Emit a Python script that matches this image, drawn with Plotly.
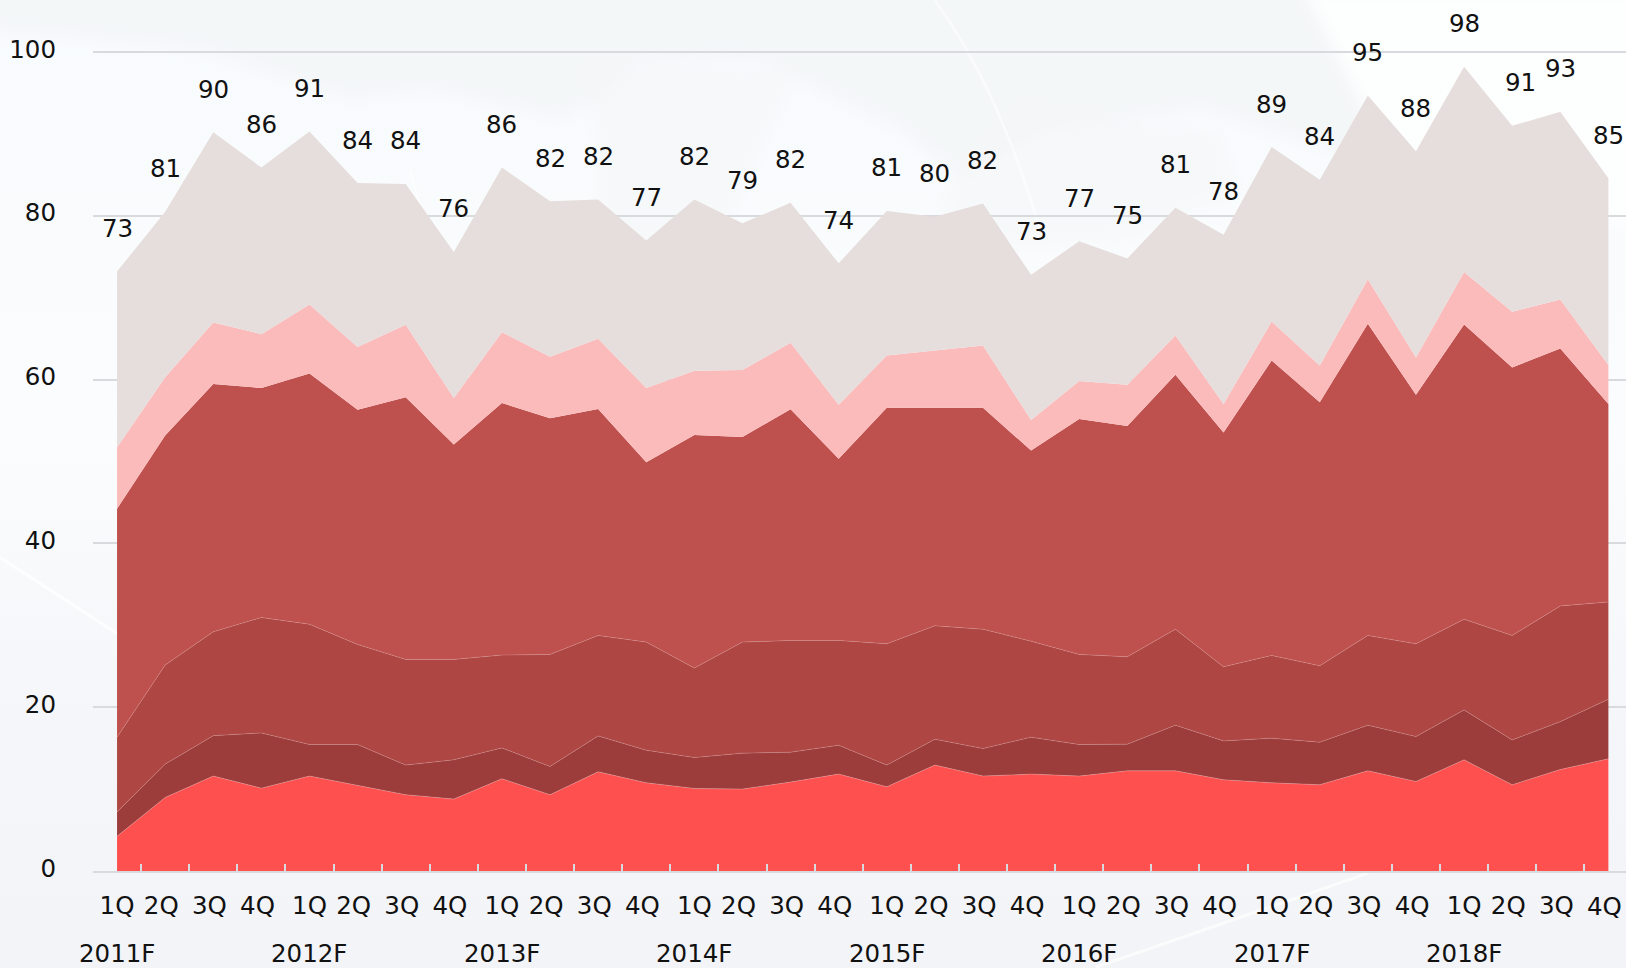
import base64
import plotly.graph_objects as go

quarters = ["1Q", "2Q\u00a0", "3Q\u00a0", "4Q\u00a0"] * 8
years = ["2011F", "2012F", "2013F", "2014F", "2015F", "2016F", "2017F", "2018F"]
total_labels = [73, 81, 90, 86, 91, 84, 84, 76, 86, 82, 82, 77, 82, 79, 82, 74,
                81, 80, 82, 73, 77, 75, 81, 78, 89, 84, 95, 88, 98, 91, 93, 85]

# upper edge of each stacked band
top_a = [4.23, 8.98, 11.59, 10.12, 11.59, 10.44, 9.31, 8.78, 11.26, 9.31, 12.11, 10.77,
         10.08, 10.0, 10.86, 11.83, 10.28, 12.93, 11.59, 11.83, 11.59, 12.23, 12.23, 11.14,
         10.77, 10.53, 12.23, 10.93, 13.57, 10.53, 12.39, 13.7]
top_b = [7.2, 13.05, 16.53, 16.86, 15.44, 15.44, 12.93, 13.57, 15.03, 12.76, 16.5, 14.75,
         13.85, 14.39, 14.51, 15.36, 12.93, 16.09, 14.95, 16.34, 15.44, 15.49, 17.8, 15.89,
         16.22, 15.73, 17.8, 16.41, 19.67, 16.01, 18.24, 20.97]
top_c = [16.34, 25.15, 29.21, 30.96, 30.14, 27.67, 25.84, 25.84, 26.37, 26.45, 28.77, 27.95,
         24.78, 27.95, 28.16, 28.16, 27.74, 29.94, 29.53, 28.07, 26.45, 26.16, 29.53, 24.94,
         26.33, 25.06, 28.77, 27.74, 30.75, 28.77, 32.37, 32.86]
top_d = [44.24, 53.17, 59.46, 58.98, 60.76, 56.34, 57.84, 52.07, 57.15, 55.28, 56.42, 49.92,
         53.25, 53.01, 56.38, 50.33, 56.58, 56.58, 56.58, 51.34, 55.2, 54.35, 60.6, 53.54,
         62.35, 57.23, 66.82, 58.17, 66.73, 61.49, 63.81, 57.03]
top_e = [51.75, 60.28, 66.98, 65.56, 69.17, 64.0, 66.7, 57.76, 65.8, 62.8, 65.0, 58.98,
         61.09, 61.17, 64.5, 56.95, 62.96, 63.53, 64.17, 55.08, 59.83, 59.38, 65.39, 57.03,
         67.1, 61.74, 72.26, 62.71, 73.15, 68.28, 69.78, 61.78]
top_f = [73.2, 80.5, 90.2, 85.9, 90.3, 84.0, 83.9, 75.6, 85.9, 81.8, 82.0, 77.0,
         82.0, 79.1, 81.6, 74.2, 80.6, 79.9, 81.5, 72.8, 76.9, 74.8, 81.0, 77.7,
         88.4, 84.4, 94.7, 87.9, 98.2, 91.0, 92.7, 84.6]

edges = [top_a, top_b, top_c, top_d, top_e, top_f]
colors = ["#FF5050", "#9C3D3B", "#AE4744", "#BE504D", "#FCBBBB", "#E6DEDC"]
edge_lines = ["rgba(255,190,190,0.4)", "rgba(230,170,170,0.35)", "rgba(230,170,170,0.35)",
              "rgba(0,0,0,0)", "rgba(0,0,0,0)", "rgba(0,0,0,0)"]

FONT = "DejaVu Sans"
FS = 24.5
TEXT = "#111111"
GRID = "#D9DADD"
W, H = 1626, 968
L, T, B = 93.25, 47.7, 97.2

x = list(range(len(quarters)))
fig = go.Figure()
prev = [0] * len(x)
for edge, color, ln in zip(edges, colors, edge_lines):
    fig.add_trace(go.Scatter(
        x=x, y=[round(e - p, 2) for e, p in zip(edge, prev)],
        mode="lines", stackgroup="one", fillcolor=color,
        line=dict(color=ln, width=0.8), hoverinfo="skip", showlegend=False,
    ))
    prev = edge

label_nudge = {29: 8}
for i, (v, lab) in enumerate(zip(top_f, total_labels)):
    fig.add_annotation(x=i, y=v, text=str(lab), showarrow=False, yshift=43,
                       xshift=label_nudge.get(i, 0),
                       font=dict(family=FONT, size=FS, color=TEXT))
for j, year in enumerate(years):
    fig.add_annotation(x=j * 4, y=0, text=year, showarrow=False, yshift=-82,
                       font=dict(family=FONT, size=FS, color=TEXT))
# the last quarter label sits too near the page edge for a tick label
fig.add_annotation(x=x[-1], y=0, text=quarters[-1].strip("\u00a0"), showarrow=False,
                   xshift=-4, yshift=-35.5, font=dict(family=FONT, size=FS, color=TEXT))

svg = """<svg xmlns='http://www.w3.org/2000/svg' width='1626' height='968'>
<defs><linearGradient id='g' x1='0' y1='0' x2='0' y2='1'>
<stop offset='0' stop-color='#F8FBFD'/><stop offset='0.45' stop-color='#FAFCFD'/>
<stop offset='0.75' stop-color='#F5F6F9'/><stop offset='1' stop-color='#F3F4F7'/>
</linearGradient>
<filter id='b' x='-10%' y='-10%' width='120%' height='120%'><feGaussianBlur stdDeviation='7'/></filter>
</defs>
<rect width='1626' height='968' fill='url(#g)'/>
<g filter='url(#b)'>
<path d='M-20 -20 L1300 -20 L1345 70 L1400 180 L1330 150 L1200 110 L1050 130 L960 180 L900 130
 L760 60 L640 60 L600 100 L560 120 L430 90 L350 100 L200 50 L100 40 L-20 30 Z' fill='#F2F3F5' fill-opacity='0.6'/>
<path d='M590 60 L800 70 L720 240 L640 300 L600 230 Z' fill='#F4F5F7' fill-opacity='0.55'/>
<path d='M940 200 L1020 110 L1220 130 L1240 190 L1130 240 L960 250 Z' fill='#F4F5F7' fill-opacity='0.55'/>
<path d='M1300 -20 L1646 -20 L1646 230 L1400 180 Z' fill='#FDFEFE'/>
</g>
<path d='M935 0 Q1000 90 1040 230' stroke='#FFFFFF' stroke-width='2.5' fill='none' opacity='0.55'/>
<path d='M410 170 Q440 270 445 330' stroke='#FFFFFF' stroke-width='2.5' fill='none' opacity='0.55'/>
<path d='M0 557 L117 633' stroke='#FFFFFF' stroke-width='3' opacity='0.85'/>
<path d='M1096 967 L1368 873' stroke='#FFFFFF' stroke-width='3' opacity='0.7'/>
</svg>"""
pw, ph = W - L, H - T - B
fig.add_layout_image(dict(
    source="data:image/svg+xml;base64," + base64.b64encode(svg.encode()).decode(),
    xref="paper", yref="paper", x=-L / pw, y=1 + T / ph,
    sizex=W / pw, sizey=H / ph, xanchor="left", yanchor="top",
    sizing="stretch", layer="below",
))

fig.update_layout(
    width=W, height=H, autosize=False,
    margin=dict(l=L, r=0, t=T, b=B),
    paper_bgcolor="#F6F8FA", plot_bgcolor="rgba(0,0,0,0)",
    font=dict(family=FONT, size=FS, color=TEXT),
    xaxis=dict(
        range=[-0.5, 31.366], tickmode="array", tickvals=x[:-1], ticktext=quarters[:-1],
        ticks="outside", ticklen=12, tickcolor="rgba(0,0,0,0)",
        showgrid=False, zeroline=False, showline=True, linecolor=GRID, linewidth=2,
        tickangle=0, tickfont=dict(family=FONT, size=FS, color=TEXT),
    ),
    xaxis2=dict(
        overlaying="x", matches="x", anchor="y", side="bottom", tickmode="array",
        tickvals=[k - 0.5 for k in range(33)], ticktext=[""] * 33,
        ticks="inside", ticklen=7, tickwidth=2, tickcolor=GRID, showgrid=False, zeroline=False,
    ),
    yaxis=dict(
        range=[0, 100.5], tickmode="array", tickvals=[0, 20, 40, 60, 80, 100],
        gridcolor=GRID, gridwidth=1.5, zeroline=False, showline=False,
        ticks="", ticklabelstandoff=36, ticklabelshift=-3,
        tickfont=dict(family=FONT, size=FS, color=TEXT),
    ),
)
fig.add_trace(go.Scatter(x=[0], y=[0], xaxis="x2", yaxis="y", mode="markers",
                         marker=dict(opacity=0), hoverinfo="skip", showlegend=False))

fig.write_html("out.html", config={"displayModeBar": False},
               post_script="document.body.style.margin='0';")
